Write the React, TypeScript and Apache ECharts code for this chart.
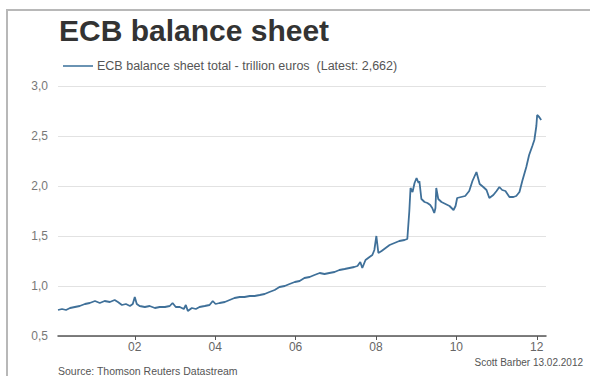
import React, { useEffect, useRef } from "react";
import * as echarts from "echarts";

const years: number[] = [
  2000.09, 2000.19, 2000.29, 2000.39, 2000.51, 2000.63, 2000.76, 2000.88, 2001.01, 2001.13,
  2001.25, 2001.38, 2001.5, 2001.58, 2001.68, 2001.78, 2001.88, 2001.95, 2002.0, 2002.05,
  2002.12, 2002.25, 2002.37, 2002.5, 2002.62, 2002.75, 2002.87, 2002.94, 2003.02, 2003.12,
  2003.22, 2003.27, 2003.32, 2003.42, 2003.52, 2003.61, 2003.74, 2003.86, 2003.94, 2004.01,
  2004.11, 2004.24, 2004.36, 2004.48, 2004.61, 2004.73, 2004.86, 2004.98, 2005.11, 2005.23,
  2005.35, 2005.48, 2005.6, 2005.73, 2005.85, 2005.98, 2006.1, 2006.22, 2006.35, 2006.47,
  2006.6, 2006.72, 2006.84, 2006.97, 2007.09, 2007.22, 2007.34, 2007.46, 2007.54, 2007.61,
  2007.66, 2007.74, 2007.84, 2007.91, 2007.96, 2008.01, 2008.06, 2008.14, 2008.24, 2008.34,
  2008.46, 2008.58, 2008.71, 2008.78, 2008.83, 2008.86, 2008.91, 2008.96, 2009.01, 2009.06,
  2009.08, 2009.13, 2009.21, 2009.28, 2009.35, 2009.4, 2009.45, 2009.48, 2009.5, 2009.55,
  2009.63, 2009.73, 2009.83, 2009.93, 2009.98, 2010.02, 2010.12, 2010.22, 2010.32, 2010.4,
  2010.5, 2010.58, 2010.67, 2010.75, 2010.82, 2010.92, 2011.0, 2011.07, 2011.14, 2011.22,
  2011.32, 2011.42, 2011.49, 2011.57, 2011.64, 2011.74, 2011.81, 2011.89, 2011.94, 2011.99,
  2012.01, 2012.06, 2012.11,
];

const balanceTotal: number[] = [
  0.76, 0.77, 0.76, 0.78, 0.79, 0.8, 0.82, 0.83, 0.85, 0.83,
  0.85, 0.84, 0.86, 0.84, 0.81, 0.82, 0.8, 0.82, 0.89, 0.82,
  0.8, 0.79, 0.8, 0.78, 0.79, 0.79, 0.8, 0.83, 0.79, 0.79,
  0.77, 0.81, 0.75, 0.78, 0.77, 0.79, 0.8, 0.81, 0.85, 0.82,
  0.83, 0.84, 0.86, 0.88, 0.89, 0.89, 0.9, 0.9, 0.91, 0.92,
  0.94, 0.96, 0.99, 1.0, 1.02, 1.04, 1.05, 1.08, 1.09, 1.11,
  1.13, 1.12, 1.13, 1.14, 1.16, 1.17, 1.18, 1.19, 1.2, 1.24,
  1.18, 1.26, 1.29, 1.31, 1.36, 1.5, 1.33, 1.35, 1.38, 1.41,
  1.43, 1.45, 1.46, 1.47, 1.75, 1.98, 1.94, 2.03, 2.08, 2.03,
  2.05, 1.87, 1.84, 1.83, 1.81, 1.78, 1.73, 1.78, 1.98, 1.87,
  1.84, 1.82, 1.8, 1.76, 1.8, 1.88, 1.89, 1.9, 1.95, 2.05,
  2.14, 2.02, 1.99, 1.96, 1.88, 1.91, 1.95, 1.99, 1.96, 1.95,
  1.89, 1.89, 1.9, 1.94, 2.05, 2.19, 2.31, 2.4, 2.46, 2.6,
  2.71, 2.69, 2.66,
];

const xTickYears: number[] = [2002, 2004, 2006, 2008, 2010, 2012];

const titleText = "ECB balance sheet";
const legendText = "ECB balance sheet total - trillion euros  (Latest: 2,662)";
const sourceText = "Source: Thomson Reuters Datastream";
const creditText = "Scott Barber 13.02.2012";

const FONT = "'Liberation Sans', Arial, sans-serif";
const LINE_COLOR = "#3f7099";

export default function App() {
  const ref = useRef<HTMLDivElement>(null);
  useEffect(() => {
    if (!ref.current) return;
    const chart = echarts.init(ref.current, null, { renderer: "svg" });
    const data = years.map((y, i) => [y, balanceTotal[i]]);
    chart.setOption({
      animation: false,
      backgroundColor: "#ffffff",
      textStyle: { fontFamily: FONT },
      grid: { left: 58, right: 44, top: 86, bottom: 40, containLabel: false },
      xAxis: {
        type: "value",
        min: 2000.09,
        max: 2012.23,
        axisLine: { show: true, lineStyle: { color: "#555", width: 1.5 } },
        axisTick: {
          show: true,
          length: 4,
          customValues: xTickYears,
          lineStyle: { color: "#555", width: 1 },
        },
        axisLabel: {
          customValues: xTickYears,
          color: "#666",
          fontSize: 12,
          margin: 5,
          fontFamily: FONT,
          formatter: (v: number) => String(Math.round(v) % 100).padStart(2, "0"),
        },
        splitLine: { show: false },
      },
      yAxis: {
        type: "value",
        min: 0.5,
        max: 3.0,
        interval: 0.5,
        axisLine: { show: false },
        axisTick: { show: false },
        axisLabel: {
          color: "#777",
          fontSize: 12,
          margin: 10,
          fontFamily: FONT,
          formatter: (v: number) => v.toFixed(1).replace(".", ","),
        },
        splitLine: { show: true, lineStyle: { color: "#e2e2e2", width: 1 } },
      },
      series: [
        {
          type: "line",
          data,
          showSymbol: false,
          symbol: "none",
          lineStyle: { color: LINE_COLOR, width: 1.8 },
          z: 3,
        },
      ],
      graphic: [
        {
          type: "polyline",
          shape: { points: [[7, 376], [7, 10], [590, 10]] },
          style: { stroke: "#b8b8b8", lineWidth: 2, fill: "none" },
        },
        {
          type: "text",
          left: 59,
          top: 15,
          style: {
            text: titleText,
            fill: "#333",
            font: `bold 30px ${FONT}`,
          },
        },
        {
          type: "line",
          shape: { x1: 63, y1: 66, x2: 93, y2: 66 },
          style: { stroke: "#6a93b3", lineWidth: 2 },
        },
        {
          type: "text",
          left: 97,
          top: 59,
          style: {
            text: legendText,
            fill: "#555",
            font: `12.5px ${FONT}`,
          },
        },
        {
          type: "text",
          left: 58,
          top: 365,
          style: {
            text: sourceText,
            fill: "#555",
            font: `10.5px ${FONT}`,
          },
        },
        {
          type: "text",
          right: 7,
          top: 357,
          style: {
            text: creditText,
            fill: "#555",
            font: `10px ${FONT}`,
          },
        },
      ],
    });
    return () => chart.dispose();
  }, []);
  return <div ref={ref} style={{ width: 590, height: 376, position: "absolute", left: 0, top: 0 }} />;
}
